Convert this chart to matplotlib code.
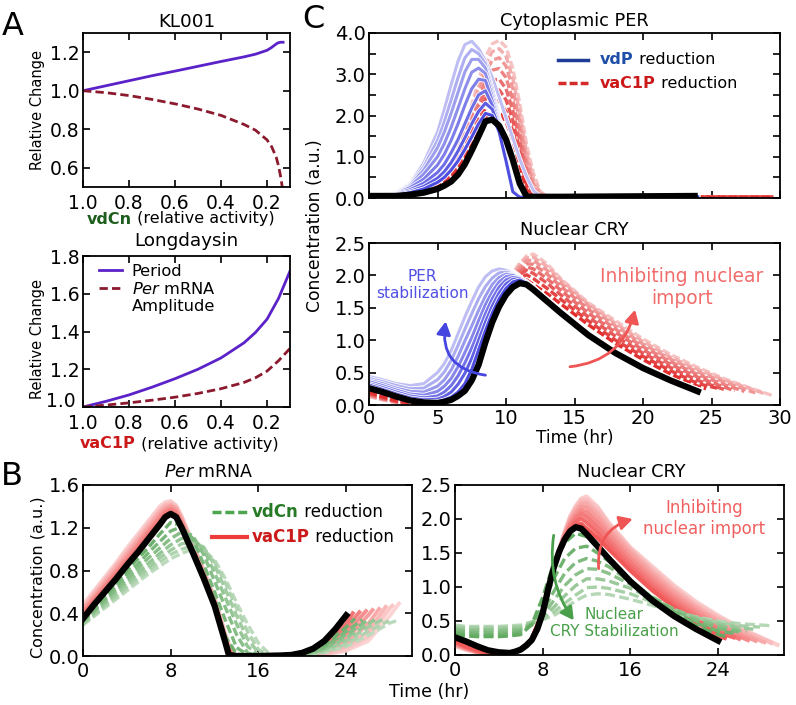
import numpy as np
import matplotlib
matplotlib.use("Agg")
import matplotlib.pyplot as plt
from matplotlib.colors import to_rgb
from matplotlib.lines import Line2D
from matplotlib.patches import FancyArrowPatch
from matplotlib.offsetbox import TextArea, HPacker, AnnotationBbox
import matplotlib.patheffects as pe

plt.rcParams["font.family"] = ["DejaVu Sans"]
plt.rcParams["mathtext.fontset"] = "dejavusans"

W, H = 796, 705

# ---------------- Panel A : relative change vs relative activity ----------------
kl_activity = [1.0, 0.9, 0.8, 0.7, 0.6, 0.5, 0.4, 0.3, 0.25, 0.2, 0.18, 0.16, 0.15, 0.14, 0.13]
kl_period = [1.0, 1.026, 1.052, 1.078, 1.102, 1.127, 1.152, 1.176, 1.19, 1.21, 1.225, 1.243, 1.25, 1.252, 1.252]
kl_amplitude = [1.0, 0.99, 0.975, 0.955, 0.932, 0.905, 0.872, 0.825, 0.795, 0.745, 0.71, 0.655, 0.61, 0.55, 0.47]

ld_activity = [1.0, 0.9, 0.8, 0.7, 0.6, 0.5, 0.4, 0.3, 0.25, 0.2, 0.15, 0.1]
ld_period = [1.0, 1.03, 1.064, 1.105, 1.15, 1.2, 1.26, 1.34, 1.395, 1.465, 1.575, 1.72]
ld_amplitude = [1.0, 1.01, 1.022, 1.036, 1.052, 1.072, 1.097, 1.13, 1.155, 1.19, 1.245, 1.31]

# ---------------- Panel C (top): cytoplasmic PER ----------------
t_per = [0, 1, 2, 3, 4, 5, 5.5, 6, 6.5, 7, 7.5, 8, 8.5, 9, 9.5, 10, 10.5, 11, 11.5, 12, 12.5, 13, 14, 24, 29.5]
per_black = [.05, .05, .05, .08, .13, .22, .3, .4, .57, .82, 1.15, 1.5, 1.86, 1.9, 1.75, 1.42, .92, .35, .04, .03, .03, .03, .03, .05]
per_vdP = [
    [.05, .05, .07, .13, .22, .38, .5, .68, .9, 1.18, 1.48, 1.8, 2.05, 2.0, 1.6, .9, .15, .02, .02, .02, .02, .02, .02, .03],
    [.05, .06, .09, .16, .28, .48, .64, .86, 1.14, 1.46, 1.8, 2.1, 2.3, 2.15, 1.7, .95, .18, .02, .02, .02, .02, .02, .02, .03],
    [.05, .06, .1, .2, .36, .62, .82, 1.1, 1.42, 1.8, 2.18, 2.5, 2.6, 2.25, 1.75, 1.0, .2, .02, .02, .02, .02, .02, .02, .03],
    [.05, .06, .11, .25, .46, .8, 1.06, 1.4, 1.8, 2.25, 2.65, 2.88, 2.85, 2.35, 1.8, 1.02, .22, .02, .02, .02, .02, .02, .02, .03],
    [.05, .07, .12, .28, .58, 1.0, 1.32, 1.72, 2.18, 2.65, 3.05, 3.15, 3.02, 2.45, 1.85, 1.05, .25, .03, .02, .02, .02, .02, .02, .03],
    [.05, .07, .13, .31, .68, 1.22, 1.6, 2.06, 2.56, 3.06, 3.36, 3.36, 3.15, 2.55, 1.9, 1.08, .28, .03, .02, .02, .02, .02, .02, .03],
    [.05, .07, .14, .33, .76, 1.4, 1.85, 2.38, 2.92, 3.4, 3.6, 3.5, 3.25, 2.65, 1.95, 1.1, .3, .03, .02, .02, .02, .02, .02, .03],
    [.05, .08, .15, .35, .85, 1.6, 2.15, 2.75, 3.32, 3.72, 3.8, 3.62, 3.32, 2.92, 2.45, 1.95, 1.45, .95, .52, .18, .04, .02, .02, .03],
]
per_vaC1P = [
    [.04, .04, .05, .08, .14, .26, .36, .5, .7, .96, 1.28, 1.62, 1.95, 2.14, 2.1, 1.85, 1.4, .8, .2, .03, .02, .02, .02, .02, .02],
    [.04, .04, .05, .08, .15, .28, .4, .56, .78, 1.08, 1.44, 1.82, 2.18, 2.38, 2.35, 2.1, 1.62, .98, .32, .04, .02, .02, .02, .02, .02],
    [.04, .04, .05, .09, .16, .3, .43, .6, .85, 1.18, 1.58, 2.0, 2.4, 2.62, 2.62, 2.38, 1.88, 1.18, .45, .08, .02, .02, .02, .02, .02],
    [.04, .04, .05, .09, .17, .32, .46, .65, .92, 1.28, 1.72, 2.18, 2.62, 2.86, 2.88, 2.65, 2.12, 1.4, .6, .15, .03, .02, .02, .02, .02],
    [.04, .04, .05, .09, .18, .34, .49, .7, .99, 1.38, 1.86, 2.36, 2.84, 3.1, 3.14, 2.92, 2.38, 1.62, .78, .25, .05, .02, .02, .02, .02],
    [.04, .04, .05, .1, .19, .36, .52, .75, 1.06, 1.48, 2.0, 2.54, 3.05, 3.34, 3.4, 3.2, 2.65, 1.85, .95, .35, .08, .02, .02, .02, .02],
    [.04, .04, .05, .1, .2, .38, .55, .8, 1.13, 1.58, 2.13, 2.7, 3.24, 3.55, 3.62, 3.44, 2.9, 2.08, 1.12, .46, .12, .03, .02, .02, .02],
    [.04, .04, .05, .1, .21, .4, .58, .84, 1.2, 1.68, 2.26, 2.86, 3.42, 3.74, 3.82, 3.66, 3.14, 2.3, 1.3, .6, .16, .03, .02, .02, .02],
]

# ---------------- Nuclear CRY (panels C bottom and B right) ----------------
t_cry = [0, 1, 2, 3, 4, 5, 5.5, 6, 6.5, 7, 7.5, 8, 8.5, 9, 9.5, 10, 10.5, 11, 11.5, 12, 13, 14, 16, 18, 20, 22, 24]
cry_black = [.26, .2, .13, .07, .04, .03, .05, .08, .14, .22, .38, .62, .97, 1.28, 1.52, 1.7, 1.82, 1.88, 1.86, 1.78, 1.6, 1.42, 1.08, .8, .57, .38, .21]
cry_vdP = [
    [.28, .21, .14, .08, .05, .05, .08, .12, .2, .33, .55, .85, 1.15, 1.42, 1.64, 1.8, 1.9, 1.93, 1.88, 1.8, 1.62, 1.44, 1.09, .81, .58, .39, .23],
    [.31, .24, .17, .11, .08, .09, .13, .2, .32, .49, .72, 1.0, 1.28, 1.53, 1.73, 1.87, 1.94, 1.95, 1.89, 1.81, 1.63, 1.45, 1.09, .81, .58, .39, .23],
    [.33, .27, .2, .14, .11, .14, .2, .3, .45, .65, .88, 1.14, 1.41, 1.64, 1.82, 1.93, 1.97, 1.96, 1.89, 1.81, 1.63, 1.45, 1.1, .82, .58, .39, .23],
    [.36, .3, .23, .17, .15, .21, .29, .41, .59, .81, 1.04, 1.3, 1.55, 1.75, 1.9, 1.98, 2.0, 1.96, 1.9, 1.81, 1.63, 1.45, 1.1, .82, .59, .4, .24],
    [.38, .33, .26, .21, .2, .29, .39, .54, .75, .99, 1.22, 1.46, 1.68, 1.86, 1.97, 2.02, 2.01, 1.96, 1.9, 1.82, 1.64, 1.46, 1.1, .82, .59, .4, .24],
    [.41, .36, .3, .25, .26, .39, .51, .69, .92, 1.17, 1.41, 1.64, 1.83, 1.96, 2.04, 2.05, 2.02, 1.96, 1.9, 1.82, 1.64, 1.46, 1.1, .82, .59, .4, .24],
    [.44, .39, .33, .3, .33, .5, .64, .84, 1.1, 1.36, 1.6, 1.82, 1.98, 2.07, 2.1, 2.08, 2.03, 1.96, 1.9, 1.82, 1.64, 1.46, 1.1, .82, .59, .4, .24],
]
t_cry_red = [0, 1, 2, 3, 4, 5, 6, 7, 8, 9, 10, 10.5, 11, 11.5, 12, 13, 14, 16, 18, 20, 22, 24, 26, 28]
cry_red_end = [24.6, 25.4, 25.9, 26.7, 27.4, 28.2, 28.8, 29.4]
cry_vaC1P = [
    [.2, .13, .07, .03, .02, .02, .08, .23, .63, 1.28, 1.71, 1.83, 1.91, 1.93, 1.86, 1.72, 1.56, 1.24, .95, .7, .48, .29, .25],
    [.19, .12, .06, .03, .02, .02, .08, .23, .63, 1.28, 1.72, 1.86, 1.96, 2.01, 1.95, 1.8, 1.63, 1.3, 1.0, .75, .53, .33, .26],
    [.18, .11, .06, .03, .02, .02, .08, .23, .63, 1.29, 1.74, 1.9, 2.01, 2.08, 2.03, 1.88, 1.7, 1.36, 1.06, .8, .58, .38, .24],
    [.17, .1, .05, .02, .02, .02, .08, .23, .63, 1.29, 1.75, 1.93, 2.05, 2.13, 2.1, 1.95, 1.77, 1.42, 1.12, .85, .63, .43, .27, .22],
    [.16, .1, .05, .02, .02, .02, .08, .23, .64, 1.3, 1.77, 1.96, 2.09, 2.18, 2.17, 2.02, 1.83, 1.48, 1.17, .9, .67, .47, .31, .21],
    [.15, .09, .05, .02, .02, .02, .08, .23, .64, 1.3, 1.78, 1.99, 2.13, 2.23, 2.23, 2.08, 1.88, 1.53, 1.22, .94, .71, .51, .35, .2, .19],
    [.14, .08, .04, .02, .01, .02, .08, .23, .64, 1.3, 1.8, 2.02, 2.16, 2.27, 2.28, 2.14, 1.93, 1.56, 1.26, .98, .74, .55, .38, .24, .18],
    [.13, .08, .04, .02, .01, .02, .08, .23, .64, 1.3, 1.81, 2.04, 2.19, 2.3, 2.33, 2.18, 1.95, 1.58, 1.3, 1.02, .78, .58, .4, .25, .15],
]
t_cry_green = [0, 1, 2, 3, 4, 5, 6, 7, 8, 9, 10, 11, 12, 13, 14, 16, 18, 20, 22, 24, 26, 28]
cry_green_end = [24.8, 25.4, 25.9, 26.6, 27.2, 27.8, 28.8]
cry_vdCn = [
    [.3, .28, .27, .27, .27, .28, .3, .45, .85, 1.35, 1.65, 1.79, 1.74, 1.58, 1.42, 1.1, .82, .6, .43, .3, .27],
    [.33, .31, .3, .3, .3, .31, .33, .44, .72, 1.12, 1.42, 1.57, 1.6, 1.5, 1.38, 1.1, .84, .63, .47, .35, .32],
    [.36, .34, .33, .33, .33, .34, .36, .45, .63, .93, 1.2, 1.36, 1.42, 1.38, 1.3, 1.08, .85, .66, .5, .39, .34],
    [.38, .36, .36, .36, .36, .37, .38, .46, .58, .8, 1.02, 1.18, 1.27, 1.26, 1.2, 1.04, .85, .67, .53, .43, .36, .35],
    [.4, .38, .38, .38, .38, .39, .4, .47, .55, .7, .87, 1.02, 1.12, 1.12, 1.09, .98, .83, .67, .55, .46, .4, .38],
    [.42, .4, .4, .4, .4, .41, .42, .48, .53, .63, .76, .88, .99, 1.0, .98, .9, .78, .65, .55, .48, .43, .41],
    [.44, .42, .42, .42, .42, .43, .44, .49, .52, .58, .68, .8, .88, .9, .89, .82, .73, .63, .56, .5, .46, .44, .43],
]

# ---------------- Panel B (left): Per mRNA ----------------
t_mrna = [0, 1, 2, 3, 4, 5, 6, 7, 7.5, 8, 8.5, 9, 10, 11, 12, 13, 13.3, 14, 16, 18, 19, 20, 21, 22, 23, 24]
mrna_black = [.35, .48, .6, .72, .85, .97, 1.1, 1.23, 1.3, 1.33, 1.3, 1.2, .97, .73, .47, .12, .01, 0, 0, .005, .01, .03, .07, .14, .25, .38]
t_mrna_red = [0, 1, 2, 3, 4, 5, 6, 7, 7.5, 8, 8.5, 9, 10, 11, 12, 13, 13.5, 14, 16, 18, 20, 22, 24, 26, 28]
mrna_red_end = [24.6, 25.2, 25.8, 26.4, 27.0, 27.6, 28.2, 28.8]
mrna_vaC1P = [
    [.38, .5, .62, .75, .87, 1.0, 1.13, 1.26, 1.32, 1.35, 1.32, 1.22, .99, .74, .48, .13, .02, 0, 0, 0, .02, .1, .3, .4],
    [.4, .52, .64, .77, .89, 1.02, 1.15, 1.28, 1.34, 1.37, 1.34, 1.24, 1.0, .75, .49, .14, .02, 0, 0, 0, .015, .08, .26, .41],
    [.41, .53, .66, .78, .91, 1.04, 1.17, 1.3, 1.36, 1.38, 1.35, 1.25, 1.01, .76, .5, .15, .03, 0, 0, 0, .01, .06, .21, .42],
    [.42, .55, .67, .8, .93, 1.06, 1.19, 1.32, 1.37, 1.4, 1.37, 1.27, 1.02, .77, .51, .16, .03, 0, 0, 0, .008, .04, .16, .38, .43],
    [.44, .56, .69, .82, .95, 1.08, 1.21, 1.34, 1.39, 1.41, 1.38, 1.28, 1.03, .78, .52, .17, .04, 0, 0, 0, .005, .03, .12, .3, .44],
    [.45, .58, .71, .84, .97, 1.1, 1.23, 1.36, 1.41, 1.42, 1.39, 1.29, 1.04, .79, .53, .18, .04, 0, 0, 0, .005, .02, .09, .23, .46],
    [.46, .59, .72, .85, .99, 1.12, 1.25, 1.38, 1.42, 1.44, 1.4, 1.3, 1.05, .8, .54, .19, .05, 0, 0, 0, 0, .015, .06, .18, .45, .47],
    [.48, .61, .74, .87, 1.01, 1.14, 1.27, 1.4, 1.44, 1.45, 1.41, 1.31, 1.06, .81, .55, .2, .05, 0, 0, 0, 0, .01, .05, .14, .38, .49],
]
t_mrna_green = [0, 1, 2, 3, 4, 5, 6, 7, 8, 9, 10, 11, 12, 13, 14, 15, 16, 17, 18, 20, 22, 24, 26, 28]
mrna_green_end = [24.8, 25.5, 25.9, 26.6, 27.3, 27.9, 28.6]
mrna_vdCn = [
    [.34, .45, .57, .68, .8, .91, 1.02, 1.14, 1.25, 1.22, 1.0, .74, .46, .18, .02, 0, 0, 0, 0, .02, .1, .27, .35],
    [.33, .43, .54, .65, .76, .86, .97, 1.07, 1.17, 1.21, 1.1, .86, .6, .33, .08, .01, 0, 0, 0, .015, .08, .23, .34],
    [.32, .42, .52, .62, .72, .82, .92, 1.01, 1.1, 1.16, 1.13, .95, .7, .45, .2, .03, 0, 0, 0, .012, .07, .2, .33],
    [.31, .41, .5, .6, .69, .78, .87, .96, 1.04, 1.1, 1.1, 1.0, .78, .54, .3, .09, .01, 0, 0, .01, .06, .17, .3, .34],
    [.3, .39, .48, .57, .66, .75, .83, .92, .99, 1.05, 1.07, 1.02, .85, .62, .38, .16, .03, 0, 0, .008, .05, .14, .27, .34],
    [.3, .38, .47, .55, .64, .72, .8, .88, .95, 1.0, 1.03, 1.0, .88, .68, .45, .23, .06, .01, 0, .006, .04, .11, .23, .33],
    [.29, .37, .45, .53, .61, .69, .77, .84, .91, .96, 1.0, .99, .9, .72, .5, .3, .12, .02, 0, .005, .03, .09, .19, .31, .33],
]

# ---------------- helpers ----------------
fig = plt.figure(figsize=(W / 100, H / 100), dpi=100)


def axes_px(left, top, right, bottom):
    return fig.add_axes([left / W, 1 - bottom / H, (right - left) / W, (bottom - top) / H])


def style(ax, xpad=4, size=14):
    ax.tick_params(direction="in", top=True, right=True, length=5, width=1.2,
                   labelsize=size, pad=xpad)
    ax.tick_params(axis="y", pad=2.5)
    for s in ax.spines.values():
        s.set_linewidth(1.3)


def tint(color, f):
    c = np.array(to_rgb(color))
    return tuple(c + (1 - c) * f)


def family(ax, ts, curves, base, f0, f1, ends=None, stroke=None, **kw):
    n = len(curves)
    for i in range(n - 1, -1, -1):
        v = curves[i]
        if ends is None:
            t = ts[:len(v)]
        else:
            t = list(ts[:len(v) - 1]) + [ends[i]]
        col = tint(base, f0 + (f1 - f0) * i / (n - 1))
        line, = ax.plot(t, v, color=col, **kw)
        if stroke:
            line.set_path_effects([pe.Stroke(linewidth=kw.get("lw", 2) + stroke, foreground="white"), pe.Normal()])


def mixed(parts, size):
    boxes = [TextArea(s, textprops=dict(fontsize=size, **p)) for s, p in parts]
    return HPacker(children=boxes, align="baseline", pad=0, sep=0)


def place(box, xpx, ypx, align=(0.5, 0.5)):
    ab = AnnotationBbox(box, (xpx / W, 1 - ypx / H), xycoords="figure fraction",
                        box_alignment=align, frameon=False, pad=0)
    fig.add_artist(ab)


def fig_line(x0, x1, y, **kw):
    fig.add_artist(Line2D([x0 / W, x1 / W], [1 - y / H, 1 - y / H], transform=fig.transFigure, **kw))


def arrow(ax, a, b, rad, color):
    ax.add_patch(FancyArrowPatch(a, b, connectionstyle=f"arc3,rad={rad}",
                                 arrowstyle="-|>,head_length=0.55,head_width=0.3",
                                 mutation_scale=14, lw=2, color=color, shrinkA=0, shrinkB=0, zorder=6))


PURPLE = "#5a22c8"
MAROON = "#8b1a2e"
BLUE = "#3535dc"
RED = "#e02424"
GREEN = "#3c963c"
DKGREEN = "#1e5e1e"
TXTRED = "#cc1a1a"

# ---------------- Panel A ----------------
axA1 = axes_px(83, 33, 290, 187)
axA2 = axes_px(83, 256, 290, 407)
for ax in (axA1, axA2):
    style(ax, xpad=5, size=13.5)
    ax.set_xlim(1.0, 0.1)
    ax.set_xticks([1.0, 0.8, 0.6, 0.4, 0.2])
    ax.set_xticklabels(["1.0", "0.8", "0.6", "0.4", "0.2"])
axA1.plot(kl_activity, kl_period, color=PURPLE, lw=2)
axA1.plot(kl_activity, kl_amplitude, color=MAROON, lw=2, dashes=(3, 1.5))
axA1.set_ylim(0.5, 1.3)
axA1.set_yticks([0.6, 0.8, 1.0, 1.2])
axA1.set_title("KL001", fontsize=13.2, pad=4)
axA1.set_ylabel("Relative Change", fontsize=10.5)
axA1.yaxis.set_label_coords(-0.184, 0.5)

axA2.plot(ld_activity, ld_period, color=PURPLE, lw=2, label="Period")
axA2.plot(ld_activity, ld_amplitude, color=MAROON, lw=2, dashes=(3, 1.5), label="$\\mathit{Per}$ mRNA")
axA2.plot([], [], color="none", label="Amplitude")
axA2.set_ylim(1.0, 1.8)
axA2.set_yticks([1.0, 1.2, 1.4, 1.6, 1.8])
axA2.set_yticklabels(["", "1.2", "1.4", "1.6", "1.8"])
axA2.set_title("Longdaysin", fontsize=13.2, pad=7)
axA2.set_ylabel("Relative Change", fontsize=10.5)
axA2.yaxis.set_label_coords(-0.184, 0.45)
axA2.text(-0.035, 0.035, "1.0", transform=axA2.transAxes, fontsize=13.5, ha="right", va="center")
axA2.legend(loc="upper left", bbox_to_anchor=(0.075, 0.95), frameon=False, fontsize=11.7,
            handlelength=1.45, handletextpad=0.6, labelspacing=0.15, borderpad=0, borderaxespad=0)

place(mixed([("vdCn", dict(color=DKGREEN, weight="bold")), (" (relative activity)", dict(color="black"))], 11.5), 181, 219)
place(mixed([("vaC1P", dict(color=TXTRED, weight="bold")), (" (relative activity)", dict(color="black"))], 11.5), 179, 444)

# ---------------- Panel C top ----------------
axC1 = axes_px(369, 33, 780, 198)
style(axC1)
family(axC1, t_per, per_vaC1P, RED, 0.05, 0.72, lw=2.4, dashes=(2.4, 0.9))
family(axC1, t_per, per_vdP, BLUE, 0.12, 0.68, lw=2.2, stroke=1.2)
axC1.plot(t_per[:len(per_black)], per_black, color="black", lw=4.5, solid_capstyle="butt", zorder=5)
axC1.set_xlim(0, 30)
axC1.set_ylim(0, 4.0)
axC1.set_xticks(range(0, 31, 5))
axC1.set_xticklabels([])
axC1.set_yticks(np.arange(0, 4.01, 0.5))
axC1.set_yticklabels(["0.0", "", "1.0", "", "2.0", "", "3.0", "", "4.0"])
axC1.set_title("Cytoplasmic PER", fontsize=12.8, pad=5)
fig_line(558, 588, 60, color="#1f3d96", lw=2.5)
fig_line(558, 588, 83, color="#d42a2a", lw=2.5, dashes=(2.3, 0.9))
place(mixed([("vdP", dict(color="#1f4fa8", weight="bold")), (" reduction", dict(color="black"))], 11.5), 600, 60, (0, 0.5))
place(mixed([("vaC1P", dict(color=TXTRED, weight="bold")), (" reduction", dict(color="black"))], 11.5), 600, 83, (0, 0.5))

# ---------------- Panel C bottom ----------------
axC2 = axes_px(369, 243, 780, 405)
style(axC2, xpad=3)
family(axC2, t_cry_red, cry_vaC1P, RED, 0.05, 0.72, ends=cry_red_end, lw=2.4, dashes=(2.4, 0.9))
family(axC2, t_cry, cry_vdP, BLUE, 0.12, 0.68, lw=2.2, stroke=1.2)
axC2.plot(t_cry, cry_black, color="black", lw=4.5, zorder=5)
axC2.set_xlim(0, 30)
axC2.set_ylim(0, 2.5)
axC2.set_xticks(range(0, 31, 5))
axC2.set_yticks(np.arange(0, 2.51, 0.5))
axC2.set_yticklabels(["0.0", "0.5", "1.0", "1.5", "2.0", "2.5"])
axC2.set_title("Nuclear CRY", fontsize=12.8, pad=6)
axC2.set_xlabel("Time (hr)", fontsize=12.2)
axC2.xaxis.set_label_coords(0.5, -0.148)
axC2.text(3.9, 1.85, "PER\nstabilization", color="#5050e6", fontsize=11, ha="center", va="center", zorder=7)
axC2.text(22.85, 1.82, "Inhibiting nuclear\nimport", color="#f26b6b", fontsize=13.4, ha="center", va="center", zorder=7)
arrow(axC2, (8.5, 0.46), (5.6, 1.29), -0.5, "#4545e0")
arrow(axC2, (14.67, 0.59), (19.42, 1.47), 0.35, "#f05555")
fig.text(315 / W, 1 - 226 / H, "Concentration (a.u.)", rotation=90, ha="center", va="center", fontsize=12.3)

# ---------------- Panel B left ----------------
axB1 = axes_px(83, 485, 412, 656)
style(axB1)
family(axB1, t_mrna_red, mrna_vaC1P, "#f05050", 0.2, 0.75, ends=mrna_red_end, lw=2.8)
family(axB1, t_mrna_green, mrna_vdCn, GREEN, 0.25, 0.65, ends=mrna_green_end, lw=2.4, dashes=(2.6, 1.1))
axB1.plot(t_mrna, mrna_black, color="black", lw=4.5, zorder=5)
axB1.set_xlim(0, 30)
axB1.set_ylim(0, 1.6)
axB1.set_xticks([0, 8, 16, 24])
axB1.set_yticks([0, 0.4, 0.8, 1.2, 1.6])
axB1.set_yticklabels(["0.0", "0.4", "0.8", "1.2", "1.6"])
axB1.set_title("$\\mathit{Per}$ mRNA", fontsize=12.5, pad=6, x=0.383)
axB1.set_ylabel("Concentration (a.u.)", fontsize=11.5)
axB1.yaxis.set_label_coords(-0.1155, 0.46)
fig_line(212, 247, 512, color="#4da64d", lw=2.5, dashes=(2.6, 1.1))
fig_line(212, 247, 537, color="#ee3b3b", lw=3)
place(mixed([("vdCn", dict(color="#267a26", weight="bold")), (" reduction", dict(color="black"))], 12), 252, 512, (0, 0.5))
place(mixed([("vaC1P", dict(color=TXTRED, weight="bold")), (" reduction", dict(color="black"))], 12), 252, 537, (0, 0.5))

# ---------------- Panel B right ----------------
axB2 = axes_px(455, 485, 784, 655)
style(axB2)
family(axB2, t_cry_red, cry_vaC1P, "#f04848", 0.1, 0.72, ends=cry_red_end, lw=3)
family(axB2, t_cry_green, cry_vdCn, GREEN, 0.2, 0.62, ends=cry_green_end, lw=2.4, dashes=(3, 1.3))
axB2.plot(t_cry, cry_black, color="black", lw=4.5, zorder=5)
axB2.set_xlim(0, 30)
axB2.set_ylim(0, 2.5)
axB2.set_xticks([0, 8, 16, 24])
axB2.set_yticks(np.arange(0, 2.51, 0.5))
axB2.set_yticklabels(["0.0", "0.5", "1.0", "1.5", "2.0", "2.5"])
axB2.set_title("Nuclear CRY", fontsize=12.8, pad=6, x=0.536)
axB2.text(22.7, 2.01, "Inhibiting\nnuclear import", color="#f06060", fontsize=12, ha="center", va="center", zorder=7)
axB2.text(14.5, 0.47, "Nuclear\nCRY Stabilization", color="#4aa04a", fontsize=11, ha="center", va="center", zorder=7)
arrow(axB2, (13.1, 1.27), (16.2, 2.0), -0.4, "#f05555")
arrow(axB2, (9.0, 1.76), (10.83, 0.51), 0.2, "#4aa04a")
fig.text(429 / W, 1 - 692 / H, "Time (hr)", ha="center", va="center", fontsize=12.5)

# ---------------- panel letters ----------------
fig.text(2 / W, 1 - 35 / H, "A", fontsize=23, va="baseline", ha="left")
fig.text(1 / W, 1 - 485 / H, "B", fontsize=23, va="baseline", ha="left")
fig.text(302 / W, 1 - 28 / H, "C", fontsize=23, va="baseline", ha="left")

fig.savefig("out.png", dpi=100)
